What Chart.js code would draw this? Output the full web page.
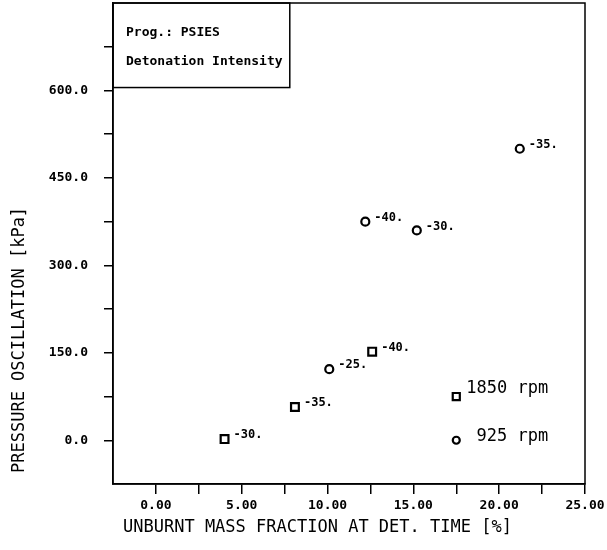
<!DOCTYPE html>
<html lang="en">
<head>
<meta charset="UTF-8" />
<title>Detonation Intensity</title>
<script src="https://cdn.jsdelivr.net/npm/chart.js"></script>
<style>
  html, body { margin: 0; padding: 0; background: #fff; }
  #wrap { width: 607px; height: 550px; }
</style>
</head>
<body>
<div id="wrap"><canvas id="chart"></canvas></div>
<script>
  // 1850 rpm (squares)
  const x1850 = [4.0, 8.1, 12.6];
  const y1850 = [2, 57, 152];
  const lbl1850 = ['-30.', '-35.', '-40.'];

  // 925 rpm (circles)
  const x925 = [21.2, 12.2, 15.2, 10.1];
  const y925 = [500, 375, 360, 122];
  const lbl925 = ['-35.', '-40.', '-30.', '-25.'];

  // key marks drawn inside the plot, as in the original
  const keyNames = ['1850 rpm', ' 925 rpm'];
  const keyX = [17.5, 17.5];
  const keyY = [75, 0];

  const xMajor = [0, 5, 10, 15, 20, 25];
  const yMajor = [0, 150, 300, 450, 600];
  const infoLines = ['Prog.: PSIES', 'Detonation Intensity'];
  const infoCorner = { x: 7.8, y: 605 };
  const xTitle = 'UNBURNT MASS FRACTION AT DET. TIME [%]';
  const yTitle = 'PRESSURE OSCILLATION [kPa]';

  const mono = 'DejaVu Sans Mono';
  const isMajor = (list, v) => list.some(m => Math.abs(m - v) < 1e-6);
  const pts = (xs, ys) => xs.map((v, i) => ({ x: v, y: ys[i] }));

  const frame = {
    id: 'frame',
    afterDraw(chart) {
      const { ctx, chartArea: a, scales: { x, y } } = chart;
      ctx.save();
      ctx.strokeStyle = '#000';
      ctx.lineWidth = 1.5;
      ctx.strokeRect(a.left, a.top, a.right - a.left, a.bottom - a.top);

      // info box in upper-left corner
      const bx = x.getPixelForValue(infoCorner.x);
      const by = y.getPixelForValue(infoCorner.y);
      ctx.strokeRect(a.left, a.top, bx - a.left, by - a.top);
      ctx.fillStyle = '#000';
      ctx.font = 'bold 13px "' + mono + '"';
      ctx.textBaseline = 'middle';
      ctx.textAlign = 'left';
      ctx.fillText(infoLines[0], a.left + 13, a.top + 30);
      ctx.fillText(infoLines[1], a.left + 13, a.top + 59);

      // point annotations
      ctx.font = 'bold 12px "' + mono + '"';
      [[0, lbl1850], [1, lbl925]].forEach(([di, labels]) => {
        chart.getDatasetMeta(di).data.forEach((el, i) => {
          ctx.fillText(labels[i], el.x + 9, el.y - 4);
        });
      });

      // key labels
      ctx.font = '17px "' + mono + '"';
      [2, 3].forEach((di, k) => {
        const el = chart.getDatasetMeta(di).data[0];
        ctx.fillText(keyNames[k], el.x + 10, el.y - (k === 0 ? 8 : 4));
      });

      // axis titles
      ctx.fillText(xTitle, a.left + 10, 528);
      ctx.save();
      ctx.translate(20, a.bottom - 11);
      ctx.rotate(-Math.PI / 2);
      ctx.fillText(yTitle, 0, 0);
      ctx.restore();
      ctx.restore();
    }
  };

  const mark = (style, r) => ({
    pointStyle: style,
    pointRadius: r,
    pointHoverRadius: r,
    borderColor: '#000',
    backgroundColor: '#fff',
    borderWidth: 2.2,
    showLine: false
  });

  // hide the tick marks that sit on the frame corners
  const tickColor = (lo, hi) => c => {
    const v = c.tick ? c.tick.value : 0;
    return (v < lo || v > hi) ? 'rgba(0,0,0,0)' : '#000';
  };

  new Chart(document.getElementById('chart'), {
    type: 'scatter',
    data: {
      datasets: [
        Object.assign({ label: '1850 rpm', data: pts(x1850, y1850) }, mark('rect', 5.5)),
        Object.assign({ label: '925 rpm', data: pts(x925, y925) }, mark('circle', 4)),
        Object.assign({ label: 'key 1850', data: [{ x: keyX[0], y: keyY[0] }] }, mark('rect', 5)),
        Object.assign({ label: 'key 925', data: [{ x: keyX[1], y: keyY[1] }] }, mark('circle', 3.5))
      ]
    },
    options: {
      responsive: true,
      maintainAspectRatio: false,
      animation: false,
      layout: { autoPadding: false, padding: { left: 49, right: 22, top: 3, bottom: 37 } },
      plugins: {
        legend: { display: false },
        tooltip: { enabled: false }
      },
      scales: {
        x: {
          type: 'linear',
          min: -2.5,
          max: 25,
          afterFit: s => { s.height = 29; s.paddingLeft = 0; s.paddingRight = 0; },
          ticks: {
            stepSize: 2.5,
            autoSkip: false,
            maxRotation: 0,
            color: '#000',
            padding: 4,
            font: { family: mono, size: 13, weight: 'bold' },
            callback: v => (isMajor(xMajor, v) ? v.toFixed(2) : '')
          },
          grid: { drawOnChartArea: false, drawTicks: true, tickLength: 10, color: tickColor(-1, 26), lineWidth: 1.5 },
          border: { display: true, color: '#000', width: 1.5 }
        },
        y: {
          type: 'linear',
          min: -75,
          max: 750,
          afterFit: s => { s.width = 64; s.paddingTop = 0; s.paddingBottom = 0; },
          ticks: {
            stepSize: 75,
            autoSkip: false,
            color: '#000',
            padding: 16,
            font: { family: mono, size: 13, weight: 'bold' },
            callback: v => (isMajor(yMajor, v) ? v.toFixed(1) : '')
          },
          grid: { drawOnChartArea: false, drawTicks: true, tickLength: 9, color: tickColor(-1, 700), lineWidth: 1.5 },
          border: { display: true, color: '#000', width: 1.5 }
        }
      }
    },
    plugins: [frame]
  });
</script>
</body>
</html>
